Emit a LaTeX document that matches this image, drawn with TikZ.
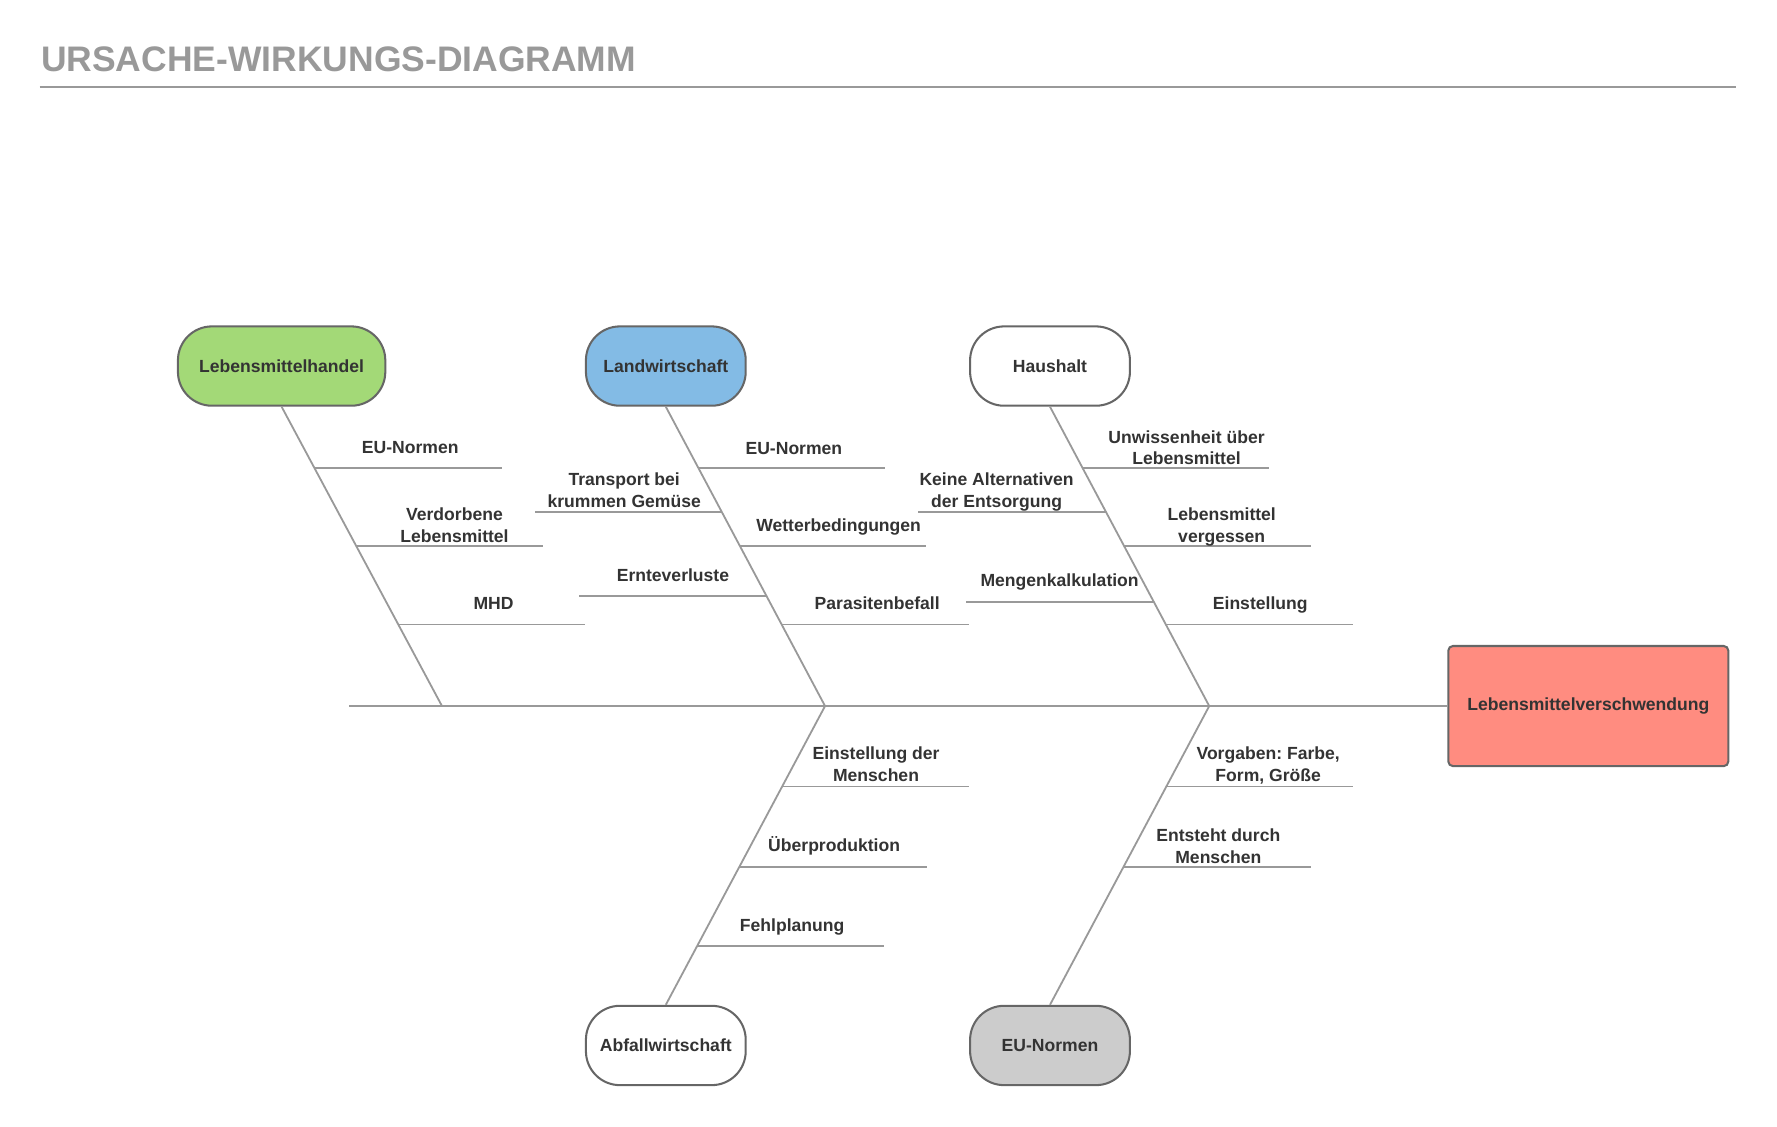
\documentclass[tikz,border=0pt]{standalone}
\usepackage{fontspec}
\setmainfont{Liberation Sans}
\frenchspacing
\definecolor{txt}{HTML}{333333}
\definecolor{bone}{HTML}{999999}
\definecolor{edge}{HTML}{666666}
\definecolor{titlegray}{HTML}{999999}
\definecolor{cgreen}{HTML}{A3D977}
\definecolor{cblue}{HTML}{83BBE5}
\definecolor{cgray}{HTML}{CCCCCC}
\definecolor{cred}{HTML}{FF8C80}
\newcommand\lblfont{\bfseries\fontsize{15.5}{19}\selectfont}
\tikzset{
  cat/.style={draw=edge, line width=1.8pt, rounded corners=30pt, minimum width=141pt,
    minimum height=70pt, inner sep=0pt, font=\lblfont, text=txt},
  effectbox/.style={draw=edge, line width=1.8pt, rounded corners=4pt, fill=cred,
    minimum width=247pt, minimum height=106pt, inner sep=0pt, font=\lblfont, text=txt},
  lbl/.style={align=center, inner sep=0pt, font=\lblfont, text=txt},
  boneline/.style={draw=bone, line width=1.6pt},
}
\begin{document}
\begin{tikzpicture}[x=1pt,y=-1pt]
\path[use as bounding box] (0,0) rectangle (1568,994);

% title
\node[anchor=base west, inner sep=0pt, text=titlegray, font=\bfseries\fontsize{31.3}{36}\selectfont] (title) at (36,63.5) {URSACHE-WIRKUNGS-DIAGRAMM};
\coordinate (rA) at (35,77);
\coordinate (rB) at (1532,77);
\draw[draw=titlegray, line width=1.8pt] (rA) -- (rB);

% nodes
\node[cat, fill=cgreen, minimum width=183pt] (lh) at (248.5,323) {Lebensmittelhandel};
\node[cat, fill=cblue] (lw) at (587.5,323) {Landwirtschaft};
\node[cat, fill=white] (hh) at (926.5,323) {Haushalt};
\node[cat, fill=white] (aw) at (587.5,922.5) {Abfallwirtschaft};
\node[cat, fill=cgray] (eu) at (926.5,922.5) {EU-Normen};
\node[effectbox] (eff) at (1401.5,623) {Lebensmittelverschwendung};

% spine
\coordinate (tail) at (308,623);
\coordinate (j1) at (390,623);
\coordinate (j2) at (728,623);
\coordinate (j3) at (1067,623);
\draw[boneline] (tail) -- (eff.west);

% bones
\draw[boneline] (lh.south) -- (j1);
\draw[boneline] (lw.south) -- (j2);
\draw[boneline] (hh.south) -- (j3);
\draw[boneline] (j2) -- (aw.north);
\draw[boneline] (j3) -- (eu.north);

% bone 1 branches
\coordinate (a1s) at (277.9,413); \coordinate (a1e) at (443,413);
\coordinate (a2s) at (314.7,482); \coordinate (a2e) at (479,482);
\coordinate (a3s) at (351.6,551); \coordinate (a3e) at (516,551);
\draw[boneline] (a1s) -- (a1e);
\draw[boneline] (a2s) -- (a2e);
\draw[boneline] (a3s) -- (a3e);
\node[lbl] (la1) at (362,396.2) {\strut EU-Normen};
\node[lbl] (la2) at (401,465) {\strut Verdorbene\\\strut Lebensmittel};
\node[lbl] (la3) at (435.5,534.2) {\strut MHD};

% bone 2 branches
\coordinate (b1s) at (616.7,413); \coordinate (b1e) at (781,413);
\coordinate (b2s) at (637.3,452); \coordinate (b2e) at (472,452);
\coordinate (b3s) at (653.2,482); \coordinate (b3e) at (817,482);
\coordinate (b4s) at (676.5,526); \coordinate (b4e) at (511,526);
\coordinate (b5s) at (689.8,551); \coordinate (b5e) at (855,551);
\draw[boneline] (b1s) -- (b1e);
\draw[boneline] (b2s) -- (b2e);
\draw[boneline] (b3s) -- (b3e);
\draw[boneline] (b4s) -- (b4e);
\draw[boneline] (b5s) -- (b5e);
\node[lbl] (lb1) at (700.5,397) {\strut EU-Normen};
\node[lbl] (lb2) at (550.8,434.2) {\strut Transport bei\\\strut krummen Gemüse};
\node[lbl] (lb3) at (740,465.4) {\strut Wetterbedingungen};
\node[lbl] (lb4) at (593.8,509.2) {\strut Ernteverluste};
\node[lbl] (lb5) at (774,534.2) {\strut Parasitenbefall};

% bone 3 branches
\coordinate (c1s) at (955.7,413); \coordinate (c1e) at (1120,413);
\coordinate (c2s) at (976.3,452); \coordinate (c2e) at (810,452);
\coordinate (c3s) at (992.2,482); \coordinate (c3e) at (1157,482);
\coordinate (c4s) at (1018.2,531); \coordinate (c4e) at (852,531);
\coordinate (c5s) at (1028.8,551); \coordinate (c5e) at (1194,551);
\draw[boneline] (c1s) -- (c1e);
\draw[boneline] (c2s) -- (c2e);
\draw[boneline] (c3s) -- (c3e);
\draw[boneline] (c4s) -- (c4e);
\draw[boneline] (c5s) -- (c5e);
\node[lbl] (lc1) at (1047,396.7) {\strut Unwissenheit über\\\strut Lebensmittel};
\node[lbl] (lc2) at (879.4,434.2) {\strut Keine Alternativen\\\strut der Entsorgung};
\node[lbl] (lc3) at (1078,465.4) {\strut Lebensmittel\\\strut vergessen};
\node[lbl] (lc4) at (935,514) {\strut Mengenkalkulation};
\node[lbl] (lc5) at (1112,534.2) {\strut Einstellung};

% bottom bone A branches
\coordinate (d1s) at (690.2,694); \coordinate (d1e) at (855,694);
\coordinate (d2s) at (652.4,765); \coordinate (d2e) at (818,765);
\coordinate (d3s) at (615.2,835); \coordinate (d3e) at (780,835);
\draw[boneline] (d1s) -- (d1e);
\draw[boneline] (d2s) -- (d2e);
\draw[boneline] (d3s) -- (d3e);
\node[lbl] (ld1) at (773,676.2) {\strut Einstellung der\\\strut Menschen};
\node[lbl] (ld2) at (736,747.7) {\strut Überproduktion};
\node[lbl] (ld3) at (699,817.7) {\strut Fehlplanung};

% bottom bone B branches
\coordinate (e1s) at (1029.2,694); \coordinate (e1e) at (1194,694);
\coordinate (e2s) at (991.4,765); \coordinate (e2e) at (1157,765);
\draw[boneline] (e1s) -- (e1e);
\draw[boneline] (e2s) -- (e2e);
\node[lbl] (le1) at (1119,676.2) {\strut Vorgaben: Farbe,\\\strut Form, Größe};
\node[lbl] (le2) at (1075,748.2) {\strut Entsteht durch\\\strut Menschen};
\end{tikzpicture}
\end{document}
